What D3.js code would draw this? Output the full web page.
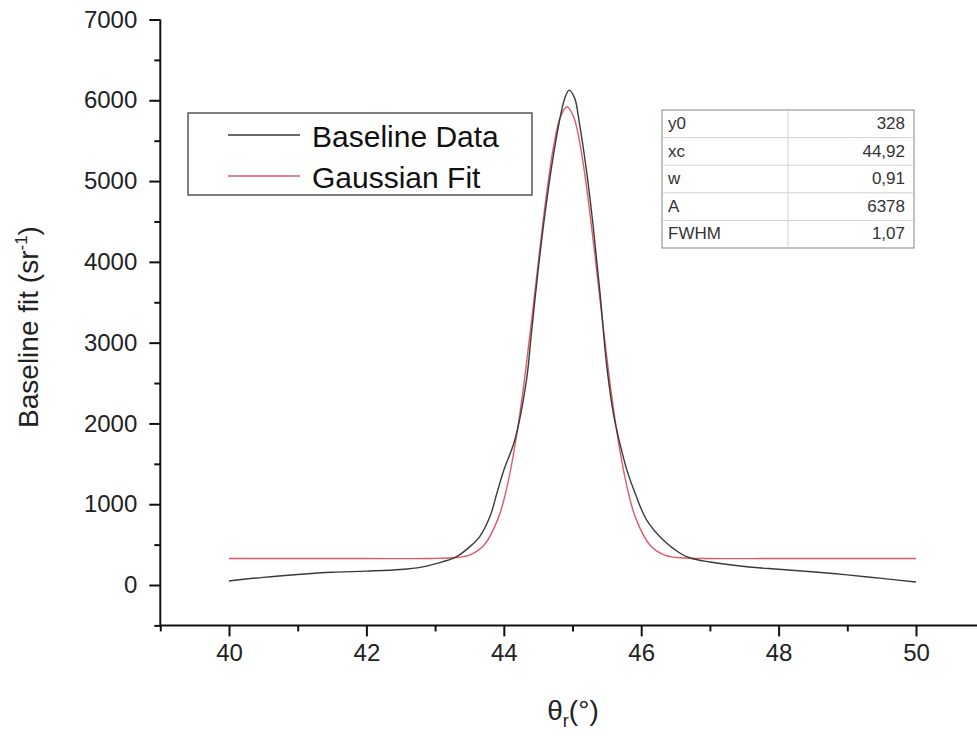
<!DOCTYPE html>
<html><head><meta charset="utf-8">
<script src="https://cdn.jsdelivr.net/npm/d3@7"></script>
<style>body{margin:0;background:#fff;} svg{display:block;font-family:"Liberation Sans",Arial,sans-serif;}</style>
</head><body>
<svg id="c" width="977" height="736"></svg>
<script>
// ---- data ----
const dataX = [40, 40.5, 41, 41.5, 42, 42.5, 42.8, 43.0, 43.3, 43.5, 43.65, 43.8, 43.9, 44.0, 44.16, 44.33, 44.4, 44.5, 44.6, 44.7, 44.8, 44.89, 44.95, 45.03, 45.1, 45.2, 45.3, 45.4, 45.5, 45.6, 45.69, 45.8, 45.91, 46.08, 46.32, 46.56, 46.71, 47.0, 47.57, 48.0, 48.53, 49.0, 49.5, 50.0];
const dataY = [50, 95, 130, 158, 172, 192, 222, 262, 345, 470, 600, 850, 1138, 1420, 1795, 2537, 3100, 3900, 4600, 5200, 5700, 6030, 6126, 6030, 5720, 5150, 4450, 3620, 2700, 2100, 1750, 1400, 1138, 804, 557, 396, 334, 285, 223, 195, 161, 125, 82, 37];
const fitX = [40, 41, 42, 42.92, 43.32, 43.52, 43.72, 43.92, 44.02, 44.12, 44.22, 44.32, 44.42, 44.52, 44.62, 44.72, 44.82, 44.92, 45.02, 45.12, 45.22, 45.32, 45.42, 45.52, 45.62, 45.72, 45.82, 45.92, 46.12, 46.32, 46.52, 46.92, 48, 49, 50];
const fitY = [328, 328, 328, 328, 340, 377, 501, 828, 1119, 1520, 2040, 2672, 3385, 4128, 4828, 5406, 5786, 5920, 5786, 5406, 4828, 4128, 3385, 2672, 2040, 1520, 1119, 828, 501, 377, 340, 328, 328, 328, 328];
const xTicks = [40, 42, 44, 46, 48, 50];
const xMinor = [39, 41, 43, 45, 47, 49];
const yTicks = [0, 1000, 2000, 3000, 4000, 5000, 6000, 7000];
const yMinor = [-500, 500, 1500, 2500, 3500, 4500, 5500, 6500];
const legendLabels = ["Baseline Data", "Gaussian Fit"];
const paramNames = ["y0", "xc", "w", "A", "FWHM"];
const paramValues = ["328", "44,92", "0,91", "6378", "1,07"];
const colors = ["#3a3a3a", "#e05a66"];

// ---- chart ----
const svg = d3.select("#c");
const x = d3.scaleLinear().domain([39, 51]).range([160.3, 984.7]);
const y = d3.scaleLinear().domain([-500, 7000]).range([625.4, 19.5]);

const line = d3.line().x((d) => x(d[0])).y((d) => y(d[1])).curve(d3.curveCatmullRom.alpha(0.5));
const dataPts = dataX.map((v, i) => [v, dataY[i]]);
const fitPts = fitX.map((v, i) => [v, fitY[i]]);

svg.append("path").attr("d", line(fitPts)).attr("fill", "none").attr("stroke", colors[1]).attr("stroke-width", 1.4);
svg.append("path").attr("d", line(dataPts)).attr("fill", "none").attr("stroke", colors[0]).attr("stroke-width", 1.4);

// axes
function styleAxis(g) {
  g.selectAll("path.domain").attr("stroke", "#111").attr("stroke-width", 2);
  g.selectAll(".tick line").attr("stroke", "#111").attr("stroke-width", 2);
  g.selectAll("text").attr("fill", "#222").attr("font-size", 24).attr("font-family", "Liberation Sans, Arial, sans-serif");
}
const xAxis = svg.append("g").attr("transform", `translate(0,${y(-500)})`)
  .call(d3.axisBottom(x).tickValues(xTicks).tickSize(11).tickPadding(8).tickFormat(d3.format("d")));
styleAxis(xAxis);
const xAxisMinor = svg.append("g").attr("transform", `translate(0,${y(-500)})`)
  .call(d3.axisBottom(x).tickValues(xMinor).tickSize(6).tickFormat(""));
styleAxis(xAxisMinor);
xAxisMinor.select("path.domain").remove();

const yAxis = svg.append("g").attr("transform", `translate(${x(39)},0)`)
  .call(d3.axisLeft(y).tickValues(yTicks).tickSize(11).tickPadding(12).tickSizeOuter(0).tickFormat(d3.format("d")));
styleAxis(yAxis);
const yAxisMinor = svg.append("g").attr("transform", `translate(${x(39)},0)`)
  .call(d3.axisLeft(y).tickValues(yMinor).tickSize(6).tickFormat(""));
styleAxis(yAxisMinor);
yAxisMinor.select("path.domain").remove();
xAxis.select("path.domain").attr("d", `M${x(39)},0H${x(51)}`);
yAxis.select("path.domain").attr("d", `M0,${y(-500)}V${y(7000)}`);

// axis titles
const xt = svg.append("text").attr("x", 573).attr("y", 720).attr("text-anchor", "middle")
  .attr("font-size", 28).attr("fill", "#222");
xt.append("tspan").text("θ");
xt.append("tspan").attr("font-size", 18).attr("dy", 7).text("r");
xt.append("tspan").attr("dy", -7).text("(°)");

const yt = svg.append("text").attr("transform", "translate(38,327) rotate(-90)").attr("text-anchor", "middle")
  .attr("font-size", 28).attr("fill", "#222");
yt.append("tspan").text("Baseline fit (sr");
yt.append("tspan").attr("font-size", 17).attr("dy", -11).text("-1");
yt.append("tspan").attr("dy", 11).text(")");

// legend
const lg = svg.append("g");
lg.append("rect").attr("x", 188).attr("y", 113).attr("width", 344).attr("height", 82)
  .attr("fill", "#fff").attr("stroke", "#555").attr("stroke-width", 1.5);
legendLabels.forEach((lab, i) => {
  const ly = 135 + i * 41;
  lg.append("line").attr("x1", 228).attr("x2", 300).attr("y1", ly).attr("y2", ly)
    .attr("stroke", colors[i]).attr("stroke-width", 1.5);
  lg.append("text").attr("x", 312).attr("y", ly + 12).attr("font-size", 30).attr("fill", "#111").text(lab);
});

// parameter table
const tb = svg.append("g");
const tx0 = 662, tx1 = 914, tmid = 788, ty0 = 110, rowH = 27.6;
tb.append("rect").attr("x", tx0).attr("y", ty0).attr("width", tx1 - tx0).attr("height", rowH * paramNames.length)
  .attr("fill", "#fff").attr("stroke", "#999").attr("stroke-width", 1.2);
paramNames.forEach((nm, i) => {
  const ry = ty0 + i * rowH;
  if (i > 0) tb.append("line").attr("x1", tx0).attr("x2", tx1).attr("y1", ry).attr("y2", ry).attr("stroke", "#d0d0d0").attr("stroke-width", 1);
  tb.append("text").attr("x", tx0 + 6).attr("y", ry + 19).attr("font-size", 17).attr("fill", "#333").text(nm);
  tb.append("text").attr("x", tx1 - 9).attr("y", ry + 19).attr("font-size", 17).attr("fill", "#333").attr("text-anchor", "end").text(paramValues[i]);
});
tb.append("line").attr("x1", tmid).attr("x2", tmid).attr("y1", ty0).attr("y2", ty0 + rowH * paramNames.length).attr("stroke", "#d0d0d0").attr("stroke-width", 1);
</script>
</body></html>
